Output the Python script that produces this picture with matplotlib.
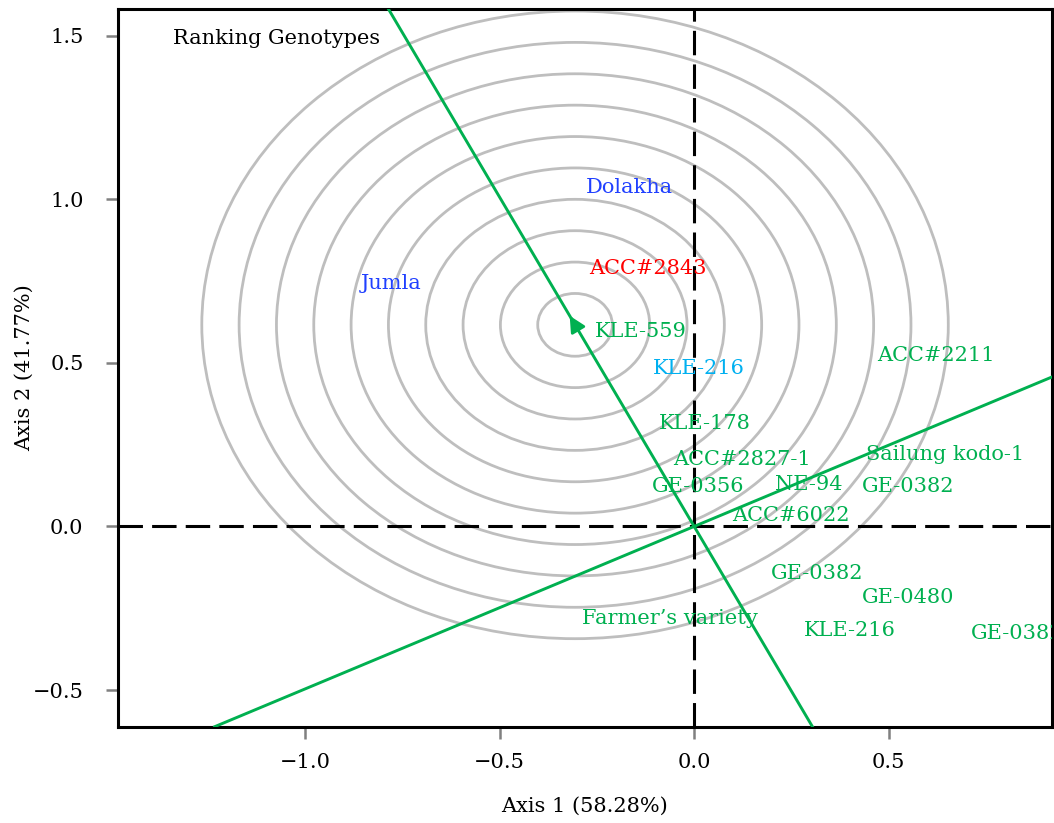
"""GGE biplot: ranking genotypes relative to the ideal genotype."""

import matplotlib

matplotlib.use("Agg")
import matplotlib.pyplot as plt
from matplotlib.patches import Circle

GREEN = "#00B050"

# genotype / environment labels: name, x, baseline y, colour, alignment
label_names = [
    "Dolakha", "Jumla", "ACC#2843", "KLE-559", "KLE-216", "ACC#2211",
    "KLE-178", "Sailung kodo-1", "ACC#2827-1", "GE-0356", "NE-94",
    "GE-0382", "ACC#6022", "GE-0382", "GE-0480", "Farmer\u2019s variety",
    "KLE-216", "GE-0382",
]
label_x = [
    -0.166, -0.779, -0.118, -0.136, 0.011, 0.620,
    0.028, 0.646, 0.122, 0.010, 0.294,
    0.550, 0.249, 0.317, 0.550, -0.062,
    0.400, 0.711,
]
label_y = [
    1.020, 0.725, 0.771, 0.579, 0.467, 0.505,
    0.297, 0.204, 0.189, 0.105, 0.112,
    0.105, 0.016, -0.160, -0.235, -0.298,
    -0.336, -0.343,
]
label_colors = [
    "#2040FF", "#2040FF", "#FF0000", GREEN, "#00B0F0", GREEN,
    GREEN, GREEN, GREEN, GREEN, GREEN,
    GREEN, GREEN, GREEN, GREEN, GREEN,
    GREEN, GREEN,
]
label_ha = ["center"] * 17 + ["left"]

# average environment axis point (centre of the concentric circles)
aec_x, aec_y = -0.306, 0.616
circle_step = 0.0959
n_circles = 10

xlim = (-1.481, 0.920)
ylim = (-0.612, 1.581)
xticks = [-1.0, -0.5, 0.0, 0.5]
yticks = [-0.5, 0.0, 0.5, 1.0, 1.5]

FS = 15

plt.rcParams["font.family"] = ["DejaVu Serif"]

fig = plt.figure(figsize=(10.54, 8.23), dpi=100)
ax = fig.add_axes([0.1117, 0.1170, 0.8866, 0.8720])

for k in range(1, n_circles + 1):
    ax.add_patch(Circle((aec_x, aec_y), k * circle_step, fill=False,
                        edgecolor="#BEBEBE", linewidth=2.0, zorder=1))

ax.axhline(0, color="black", linewidth=2.2, dashes=(8, 3), zorder=2)
ax.axvline(0, color="black", linewidth=2.2, dashes=(8, 3), zorder=2)

# average environment coordinate axis and its perpendicular
ax.axline((0, 0), (aec_x, aec_y), color=GREEN, linewidth=2.1, zorder=3)
ax.axline((0, 0), (aec_y, -aec_x), color=GREEN, linewidth=2.1, zorder=3)
ax.annotate("", xy=(aec_x * 1.045, aec_y * 1.045),
            xytext=(aec_x * 0.98, aec_y * 0.98),
            arrowprops=dict(arrowstyle="-|>", color=GREEN, lw=2.0,
                            mutation_scale=24, shrinkA=0, shrinkB=0),
            zorder=4)

for name, x, y, c, ha in zip(label_names, label_x, label_y, label_colors, label_ha):
    ax.text(x, y, name, color=c, ha=ha, va="baseline", fontsize=FS,
            clip_on=True, zorder=5)

ax.text(-1.339, 1.473, "Ranking Genotypes", ha="left", va="baseline",
        fontsize=FS, color="black")

ax.set_xlim(*xlim)
ax.set_ylim(*ylim)
ax.set_xticks(xticks)
ax.set_yticks(yticks)
ax.tick_params(axis="both", direction="out", length=8.6, width=1.8,
               color="#808080", labelsize=FS)
ax.tick_params(axis="x", pad=10)
ax.tick_params(axis="y", pad=16)
for spine in ax.spines.values():
    spine.set_linewidth(2.2)
    spine.set_color("black")

ax.set_xlabel("Axis 1 (58.28%)", fontsize=FS)
ax.set_ylabel("Axis 2 (41.77%)", fontsize=FS)
ax.xaxis.label.set_va("center")
ax.yaxis.label.set_va("center")
ax.xaxis.set_label_coords(0.5, -0.1105)
ax.yaxis.set_label_coords(-0.1000, 0.5)

fig.savefig("out.png", dpi=100)
